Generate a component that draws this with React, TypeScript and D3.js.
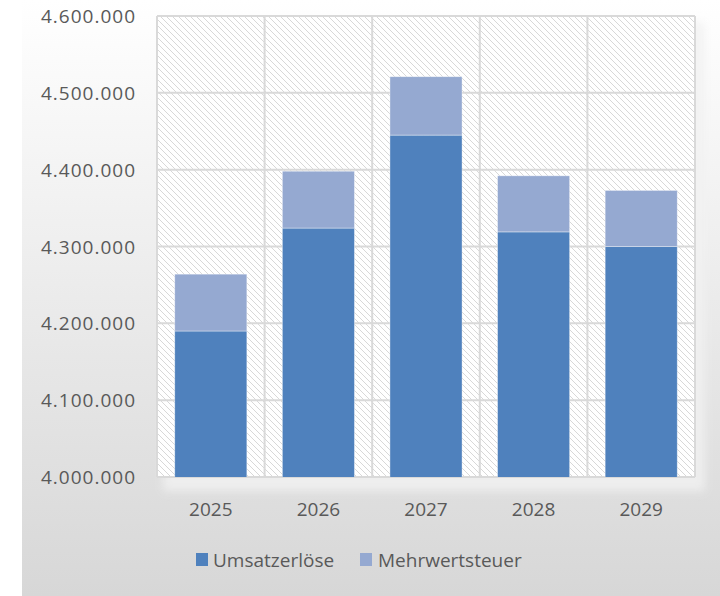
import * as d3 from "d3";

const years = ["2025", "2026", "2027", "2028", "2029"];
const umsatz = [4190000, 4324000, 4445000, 4319000, 4300000];
const mwst = [74000, 74000, 76000, 73000, 73000];
const yTicks = [4000000, 4100000, 4200000, 4300000, 4400000, 4500000, 4600000];
const seriesNames = ["Umsatzerlöse", "Mehrwertsteuer"];
const seriesColors = ["#4f81bd", "#95a9d1"];

const W = 720;
const H = 596;
const plot = { left: 157, right: 695, top: 16, bottom: 477 };
const font = "'Open Sans', sans-serif";

const fmt = (v: number) => d3.format(",")(v).replace(/,/g, ".");

export default function App() {
    const x = d3.scaleBand<string>().domain(years).range([plot.left, plot.right]).paddingInner(0.33).paddingOuter(0.165);
    const y = d3.scaleLinear().domain([4000000, 4600000]).range([plot.bottom, plot.top]);
    const band = d3.scaleBand<string>().domain(years).range([plot.left, plot.right]);

    const rows = years.map((yr, i) => ({ year: yr, Umsatzerlöse: umsatz[i], Mehrwertsteuer: mwst[i] }));
    // stacked from 0, the axis starts at 4.000.000 so bars get clipped to the plot
    const stack = d3.stack<any>().keys(seriesNames)(rows);

    return (
        <svg width={W} height={H} style={{ position: "absolute", left: 0, top: 0 }}>
            <defs>
                <linearGradient id="bg" x1="0" y1="0" x2="0" y2="1">
                    <stop offset="0" stopColor="#ffffff" />
                    <stop offset="1" stopColor="#d7d7d7" />
                </linearGradient>
                <pattern id="hatch" width={6} height={6} patternUnits="userSpaceOnUse">
                    <rect width={6} height={6} fill="#ffffff" />
                    <path d="M0,0 L6,6 M-1,5 L1,7 M5,-1 L7,1" stroke="#d8d8d8" strokeWidth={1} />
                </pattern>
                <filter id="glow" x="-10%" y="-10%" width="120%" height="120%">
                    <feGaussianBlur stdDeviation="4" />
                </filter>
                <clipPath id="clip">
                    <rect x={plot.left} y={plot.top} width={plot.right - plot.left} height={plot.bottom - plot.top} />
                </clipPath>
            </defs>

            <rect x={0} y={0} width={W} height={H} fill="#ffffff" />
            <rect x={22} y={0} width={W - 22} height={H} fill="url(#bg)" />

            <rect
                x={plot.left + 6}
                y={plot.top + 6}
                width={plot.right - plot.left + 4}
                height={plot.bottom - plot.top + 8}
                fill="#f2f2f2"
                opacity={0.8}
                filter="url(#glow)"
            />
            <rect
                x={plot.left}
                y={plot.top}
                width={plot.right - plot.left}
                height={plot.bottom - plot.top}
                fill="url(#hatch)"
            />

            {yTicks.map(t => (
                <line key={t} x1={plot.left} x2={plot.right} y1={y(t)} y2={y(t)} stroke="#d9d9d9" strokeWidth={2} />
            ))}
            {years.map(yr => (
                <line key={yr} x1={band(yr)!} x2={band(yr)!} y1={plot.top} y2={plot.bottom} stroke="#d9d9d9" strokeWidth={2} />
            ))}
            <line x1={plot.right} x2={plot.right} y1={plot.top} y2={plot.bottom} stroke="#d9d9d9" strokeWidth={2} />

            <g clipPath="url(#clip)">
                {stack.map((s, si) => (
                    <g key={s.key} fill={seriesColors[si]}>
                        {s.map((d: any) => (
                            <rect
                                key={d.data.year}
                                x={x(d.data.year)!}
                                y={y(d[1])}
                                width={x.bandwidth()}
                                height={y(Math.max(d[0], 3990000)) - y(d[1])}
                                stroke="#ffffff"
                                strokeOpacity={0.5}
                                strokeWidth={0.75}
                            />
                        ))}
                    </g>
                ))}
            </g>

            <g fontFamily={font} fontSize={19} fill="#595959">
                {yTicks.map(t => (
                    <text key={t} x={136} y={y(t)} textAnchor="end" dominantBaseline="central" letterSpacing={1}>
                        {fmt(t)}
                    </text>
                ))}
                {years.map(yr => (
                    <text key={yr} x={x(yr)! + x.bandwidth() / 2} y={509} textAnchor="middle" dominantBaseline="central">
                        {yr}
                    </text>
                ))}
            </g>

            <g fontFamily={font} fontSize={19} fill="#595959">
                <rect x={196} y={553} width={12} height={13} fill={seriesColors[0]} />
                <text x={213} y={560} dominantBaseline="central">{seriesNames[0]}</text>
                <rect x={360} y={553} width={12} height={13} fill={seriesColors[1]} />
                <text x={378} y={560} dominantBaseline="central">{seriesNames[1]}</text>
            </g>
        </svg>
    );
}
